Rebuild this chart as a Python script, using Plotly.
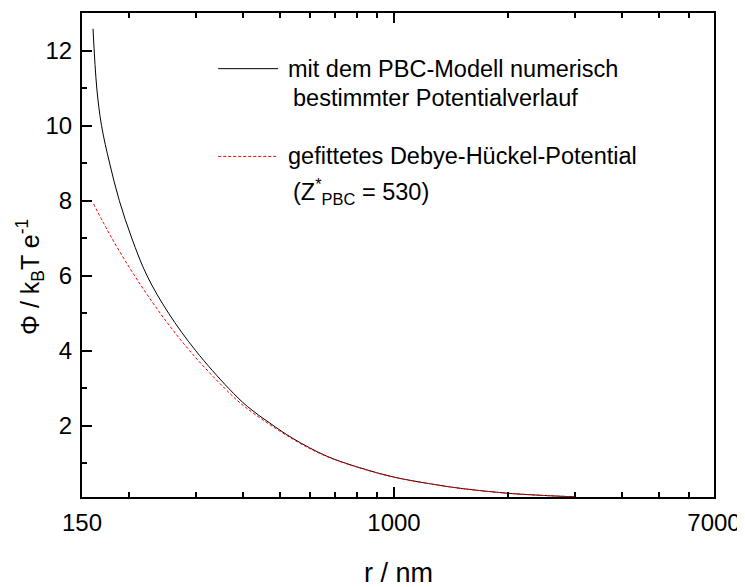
import plotly.graph_objs as go

# PBC-Modell, numerisch bestimmt
r_pbc = [160.4, 164.1, 168.9, 177.4, 188.2, 203.0, 222.7, 253.9, 299.4, 365.6, 410.4, 470, 541, 664, 812,
         1000, 1250, 1500, 2000, 2500, 3000]
phi_pbc = [12.58, 11.0, 10.0, 9.0, 8.0, 7.0, 6.0, 5.0, 4.0, 3.0, 2.51, 2.07, 1.66, 1.19, 0.88,
           0.63, 0.45, 0.33, 0.20, 0.14, 0.105]

# gefittetes Debye-Hueckel-Potential
r_dh = [161.0, 179.8, 206.5, 241.3, 288.6, 356.9, 404.3, 541, 664, 812, 1000, 1250, 1500, 2000, 2500, 3000]
phi_dh = [7.91, 7.0, 6.0, 5.0, 4.0, 3.0, 2.50, 1.64, 1.18, 0.875, 0.625, 0.45, 0.33, 0.20, 0.14, 0.105]

x_ticks = [150, 1000, 7000]
x_minor = [200, 300, 400, 500, 600, 700, 800, 900, 2000, 3000, 4000, 5000, 6000]
y_ticks = [2, 4, 6, 8, 10, 12]

font = 'Arial, Liberation Sans, sans-serif'

pbc_trace = go.Scatter(x=r_pbc, y=phi_pbc, mode='lines', line_shape='spline',
                       line=dict(color='black', width=1), showlegend=False)
dh_trace = go.Scatter(x=r_dh, y=phi_dh, mode='lines', line_shape='spline',
                      line=dict(color='red', width=1, dash='3px,2px'), showlegend=False)

# die Seite hat 8px Rand, daher etwas kleiner
layout = go.Layout(
    width=737, height=579,
    margin=dict(l=74, r=31, t=5, b=90),
    plot_bgcolor='white', paper_bgcolor='white',
    font=dict(family=font, size=24, color='black'),
    xaxis=dict(type='log', range=[2.17609, 3.845098], tickvals=x_ticks, ticktext=[str(v) for v in x_ticks],
               ticks='inside', ticklen=10, tickwidth=1.5, tickcolor='black',
               minor=dict(tickvals=x_minor, ticks='inside', ticklen=5, tickwidth=1.5, tickcolor='black'),
               showline=True, linewidth=2, linecolor='black', mirror='ticks',
               showgrid=False, zeroline=False, ticklabelstandoff=3, automargin=False),
    yaxis=dict(range=[0.1, 13], tickvals=y_ticks,
               ticks='inside', ticklen=10, tickwidth=1.5, tickcolor='black',
               minor=dict(dtick=1, ticks='inside', ticklen=5, tickwidth=1.5, tickcolor='black'),
               showline=True, linewidth=2, linecolor='black', mirror=True,
               showgrid=False, zeroline=False, ticklabelstandoff=3, automargin=False),
    showlegend=False,
)

fig = go.Figure(data=[pbc_trace, dh_trace], layout=layout)

# Legende von Hand: Linienmuster + Text
fig.add_shape(type='line', xref='paper', yref='paper', x0=0.2155, x1=0.3103, y0=0.885, y1=0.885,
              line=dict(color='black', width=1))
fig.add_shape(type='line', xref='paper', yref='paper', x0=0.2155, x1=0.3103, y0=0.7037, y1=0.7037,
              line=dict(color='red', width=1, dash='3px,2px'))

legend_lines = [
    ('mit dem PBC-Modell numerisch', 0.323, 0.885),
    ('bestimmter Potentialverlauf', 0.330, 0.825),
    ('gefittetes Debye-Hückel-Potential', 0.323, 0.7037),
    ('(Z<sup>*</sup><sub>PBC</sub> = 530)', 0.330, 0.632),
]
for txt, lx, ly in legend_lines:
    fig.add_annotation(text=txt, xref='paper', yref='paper', x=lx, y=ly, xanchor='left', yanchor='middle',
                       showarrow=False, font=dict(size=23.5))

# Achsentitel
fig.add_annotation(text='Φ / k<sub>B</sub>T e<sup>-1</sup>', xref='paper', yref='paper', x=-0.082, y=0.455,
                   xanchor='center', yanchor='middle', textangle=-90, showarrow=False, font=dict(size=25))
fig.add_annotation(text='r / nm', xref='paper', yref='paper', x=0.5, y=-0.157,
                   xanchor='center', yanchor='middle', showarrow=False, font=dict(size=27))

fig.write_html("out.html")
